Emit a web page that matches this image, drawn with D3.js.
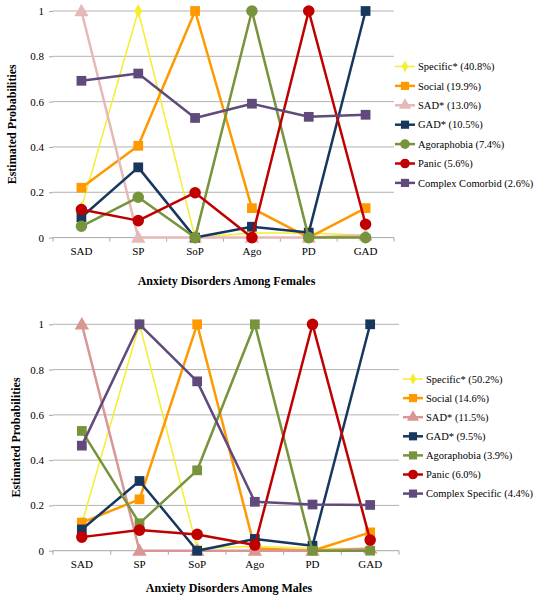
<!DOCTYPE html>
<html>
<head>
<meta charset="utf-8">
<script src="https://cdn.jsdelivr.net/npm/d3@7"></script>
<style>
  html, body { margin: 0; padding: 0; background: #fff; }
  svg { display: block; }
</style>
</head>
<body>
<svg id="chart" width="537" height="600"></svg>
<script>
// ---------- DATA ----------
const categories = ["SAD", "SP", "SoP", "Ago", "PD", "GAD"];
const yTicks = [0, 0.2, 0.4, 0.6, 0.8, 1];
const yTickLabels = ["0", "0.2", "0.4", "0.6", "0.8", "1"];

const femaleTitle = "Anxiety Disorders Among Females";
const maleTitle = "Anxiety Disorders Among Males";
const yTitle = "Estimated Probabilities";

const femaleNames = ["Specific* (40.8%)", "Social (19.9%)", "SAD* (13.0%)", "GAD* (10.5%)",
                     "Agoraphobia (7.4%)", "Panic (5.6%)", "Complex Comorbid (2.6%)"];
const femaleSpecific = [0.13, 1, 0, 0.02, 0.02, 0.01];
const femaleSocial   = [0.22, 0.405, 1, 0.13, 0, 0.13];
const femaleSAD      = [1, 0, 0, 0, 0, 0.01];
const femaleGAD      = [0.09, 0.31, 0, 0.048, 0.022, 1];
const femaleAgora    = [0.05, 0.178, 0, 1, 0, 0];
const femalePanic    = [0.124, 0.075, 0.198, 0, 1, 0.059];
const femaleComplex  = [0.692, 0.724, 0.528, 0.591, 0.533, 0.542];

const maleNames = ["Specific* (50.2%)", "Social (14.6%)", "SAD* (11.5%)", "GAD* (9.5%)",
                   "Agoraphobia (3.9%)", "Panic (6.0%)", "Complex Specific (4.4%)"];
const maleSpecific = [0.12, 1, 0.01, 0.02, 0.01, 0.01];
const maleSocial   = [0.124, 0.227, 1, 0.01, 0, 0.081];
const maleSAD      = [1, 0, 0, 0, 0, 0.01];
const maleGAD      = [0.094, 0.308, 0, 0.052, 0.022, 1];
const maleAgora    = [0.529, 0.121, 0.355, 1, 0, 0];
const malePanic    = [0.06, 0.091, 0.072, 0.025, 1, 0.047];
const maleComplex  = [0.464, 1, 0.748, 0.216, 0.204, 0.202];

// ---------- STYLES ----------
const FONT = "'Liberation Serif', 'Times New Roman', 'DejaVu Serif', serif";
const femaleStyles = [
  {color: "#f5ee2f", marker: "diamond", width: 1.5},
  {color: "#ff9900", marker: "square", width: 2.5},
  {color: "#e6b9b8", marker: "triangle", width: 2.5},
  {color: "#17375e", marker: "square", width: 2.5},
  {color: "#77933c", marker: "circle", width: 2.5},
  {color: "#c00000", marker: "circle", width: 2.5},
  {color: "#604a7b", marker: "square", width: 2.5}
];
const maleStyles = [
  {color: "#f5ee2f", marker: "diamond", width: 1.5},
  {color: "#ff9900", marker: "square", width: 2.5},
  {color: "#d99694", marker: "triangle", width: 2.5},
  {color: "#17375e", marker: "square", width: 2.5},
  {color: "#77933c", marker: "square", width: 2.5},
  {color: "#c00000", marker: "circle", width: 2.5},
  {color: "#604a7b", marker: "square", width: 2.5}
];

const svg = d3.select("#chart");

function markerPath(type, size) {
  const map = {diamond: d3.symbolDiamond, square: d3.symbolSquare, triangle: d3.symbolTriangle, circle: d3.symbolCircle};
  return d3.symbol().type(map[type]).size(size)();
}
function markerSize(type) {
  return {diamond: 55, square: 95, triangle: 90, circle: 105}[type];
}

function drawChart(cfg) {
  const g = svg.append("g");
  const x = d3.scaleBand().domain(categories).range([cfg.x0, cfg.x1]);
  const y = d3.scaleLinear().domain([0, 1]).range([cfg.yBottom, cfg.yTop]);

  // gridlines
  g.append("g").selectAll("line").data(yTicks.filter(t => t > 0)).join("line")
    .attr("x1", cfg.x0).attr("x2", cfg.x1)
    .attr("y1", d => y(d)).attr("y2", d => y(d))
    .attr("stroke", "#b3b3b3").attr("stroke-width", 1);

  // y axis
  const yAxis = d3.axisLeft(y).tickValues(yTicks).tickFormat((d, i) => yTickLabels[i]).tickSize(4).tickPadding(5);
  const ya = g.append("g").attr("transform", `translate(${cfg.x0},0)`).call(yAxis)
    .attr("font-family", FONT).attr("font-size", 11);
  ya.select(".domain").remove();
  ya.selectAll(".tick line").attr("stroke", "#a6a6a6");
  ya.selectAll(".tick text").attr("fill", "#000");

  // x axis
  const xAxis = d3.axisBottom(x).tickSize(0).tickPadding(10);
  const xa = g.append("g").attr("transform", `translate(0,${cfg.yBottom})`).call(xAxis)
    .attr("font-family", FONT).attr("font-size", 11);
  xa.select(".domain").attr("stroke", "#a6a6a6").attr("d", `M${cfg.x0},0H${cfg.x1}`);
  xa.selectAll(".tick text").attr("fill", "#000");
  // boundary tick marks
  const bounds = categories.map(c => x(c)).concat([cfg.x1]);
  g.append("g").selectAll("line").data(bounds).join("line")
    .attr("x1", d => d).attr("x2", d => d)
    .attr("y1", cfg.yBottom).attr("y2", cfg.yBottom + 4)
    .attr("stroke", "#a6a6a6");

  // lines & markers
  const line = d3.line().x((d, i) => x(categories[i]) + x.bandwidth() / 2).y(d => y(d));
  cfg.series.forEach((vals, si) => {
    const st = cfg.styles[si];
    g.append("path").datum(vals).attr("d", line)
      .attr("fill", "none").attr("stroke", st.color).attr("stroke-width", st.width)
      .attr("stroke-linejoin", "round");
    g.append("g").selectAll("path").data(vals).join("path")
      .attr("d", markerPath(st.marker, markerSize(st.marker)))
      .attr("transform", (d, i) => `translate(${x(categories[i]) + x.bandwidth() / 2},${y(d) + (st.marker === "triangle" ? 1 : 0)})`)
      .attr("fill", st.color);
  });

  // axis titles
  g.append("text").attr("x", (cfg.x0 + cfg.x1) / 2 + 3).attr("y", cfg.xTitleY)
    .attr("text-anchor", "middle").attr("font-family", FONT).attr("font-size", 12).attr("font-weight", "bold")
    .text(cfg.xTitle);
  g.append("text").attr("transform", `translate(${cfg.yTitleX},${(cfg.yTop + cfg.yBottom) / 2}) rotate(-90)`)
    .attr("text-anchor", "middle").attr("dy", "0.35em")
    .attr("font-family", FONT).attr("font-size", 12).attr("font-weight", "bold").text(yTitle);

  // legend
  const lg = g.append("g");
  cfg.names.forEach((name, i) => {
    const st = cfg.styles[i];
    const ly = cfg.legendY + i * cfg.legendStep;
    lg.append("line").attr("x1", cfg.legendX).attr("x2", cfg.legendX + 20)
      .attr("y1", ly).attr("y2", ly).attr("stroke", st.color).attr("stroke-width", st.width);
    lg.append("path").attr("d", markerPath(st.marker, markerSize(st.marker) * 0.7))
      .attr("transform", `translate(${cfg.legendX + 10},${ly})`).attr("fill", st.color);
    lg.append("text").attr("x", cfg.legendX + 23).attr("y", ly).attr("dy", "0.35em")
      .attr("font-family", FONT).attr("font-size", 10.5).text(name);
  });
}

drawChart({
  x0: 53, x1: 394, yTop: 11, yBottom: 237.6,
  series: [femaleSpecific, femaleSocial, femaleSAD, femaleGAD, femaleAgora, femalePanic, femaleComplex],
  styles: femaleStyles, names: femaleNames,
  xTitle: femaleTitle, xTitleY: 285, yTitleX: 12,
  legendX: 395, legendY: 66.5, legendStep: 19.4
});

drawChart({
  x0: 53, x1: 399, yTop: 324.3, yBottom: 550.7,
  series: [maleSpecific, maleSocial, maleSAD, maleGAD, maleAgora, malePanic, maleComplex],
  styles: maleStyles, names: maleNames,
  xTitle: maleTitle, xTitleY: 592, yTitleX: 16,
  legendX: 403, legendY: 379, legendStep: 19.1
});
</script>
</body>
</html>
